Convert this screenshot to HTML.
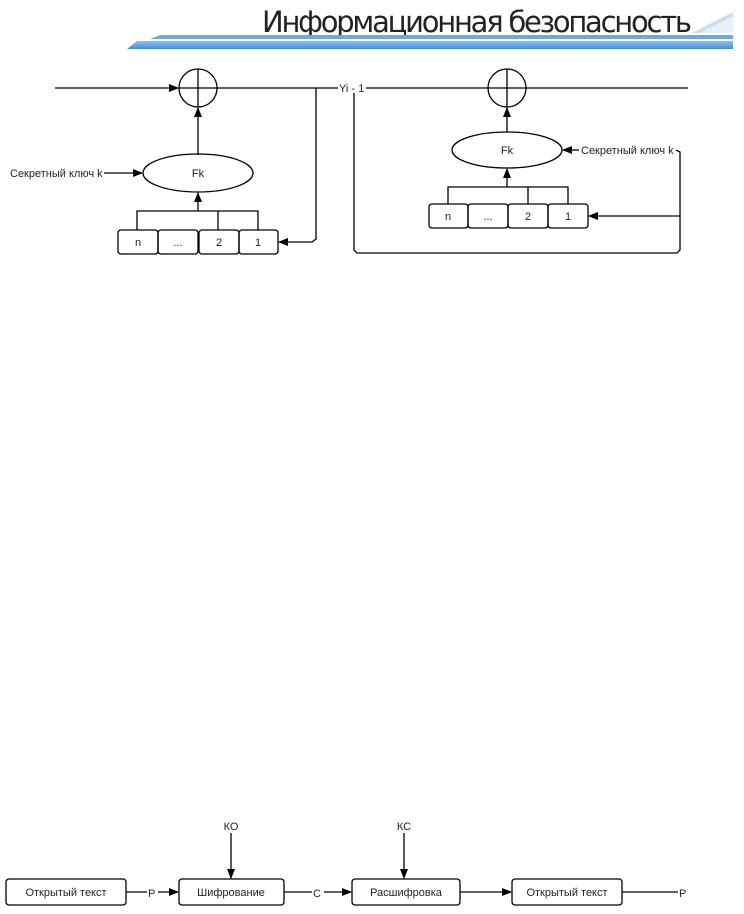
<!DOCTYPE html>
<html><head><meta charset="utf-8"><style>
html,body{margin:0;padding:0;background:#fff;width:744px;height:914px;overflow:hidden}
svg text{font-family:"Liberation Sans",sans-serif;fill:#222}
</style></head><body>
<svg width="744" height="914" viewBox="0 0 744 914" xmlns="http://www.w3.org/2000/svg">
<defs>
<marker id="a" markerWidth="10" markerHeight="8" refX="9" refY="4" orient="auto" markerUnits="userSpaceOnUse"><path d="M0,0 L10,4 L0,8 Z" fill="#000"/></marker>
<linearGradient id="g" x1="0" y1="0" x2="0" y2="1"><stop offset="0" stop-color="#8ec0ee"/><stop offset="1" stop-color="#3f8fdc"/></linearGradient>
</defs>
<!-- header -->
<text x="262" y="32" font-size="29" style="font-family:'DejaVu Sans','Liberation Sans',sans-serif" textLength="430" fill="#111">Информационная безопасность</text>
<polygon points="160,35 733,35 733,39 150,39" fill="#6aa8e6"/>
<polygon points="137,41 733,41 733,49 127,49" fill="url(#g)"/>
<polygon points="692,33 733,12 733,33" fill="#c9dff3"/>
<polygon points="700,33 733,16 733,33" fill="#e8f1fa"/>
<g stroke="#000" stroke-width="1.3" fill="none">
<!-- left diagram -->
<line x1="55" y1="88" x2="178" y2="88" marker-end="url(#a)"/>
<circle cx="198" cy="88" r="19"/>
<line x1="198" y1="69" x2="198" y2="107"/>
<line x1="179" y1="88" x2="217" y2="88"/>
<line x1="217" y1="88" x2="338" y2="88"/>
<line x1="198" y1="155" x2="198" y2="108" marker-end="url(#a)"/>
<ellipse cx="198" cy="173" rx="55" ry="19"/>
<line x1="104" y1="173" x2="142" y2="173" marker-end="url(#a)"/>
<line x1="198" y1="211" x2="198" y2="193" marker-end="url(#a)"/>
<polyline points="137,230 137,211 258,211 258,230"/>
<line x1="218" y1="211" x2="218" y2="230"/>
<rect x="118" y="230" width="40" height="24" rx="3"/>
<rect x="158" y="230" width="40" height="24" rx="3"/>
<rect x="199" y="230" width="40" height="24" rx="3"/>
<rect x="239" y="230" width="39" height="24" rx="3"/>
<polyline points="316,88 316,239 312,242 279,242" marker-end="url(#a)"/>
<!-- right diagram -->
<line x1="366" y1="88" x2="688" y2="88"/>
<circle cx="507" cy="88" r="19"/>
<line x1="507" y1="69" x2="507" y2="107"/>
<line x1="507" y1="132" x2="507" y2="108" marker-end="url(#a)"/>
<ellipse cx="507" cy="150" rx="55" ry="18"/>
<line x1="579" y1="150" x2="563" y2="150" marker-end="url(#a)"/>
<line x1="507" y1="187" x2="507" y2="169" marker-end="url(#a)"/>
<polyline points="448,204 448,187 568,187 568,204"/>
<line x1="528" y1="187" x2="528" y2="204"/>
<rect x="429" y="204" width="39" height="24" rx="3"/>
<rect x="468" y="204" width="40" height="24" rx="3"/>
<rect x="508" y="204" width="40" height="24" rx="3"/>
<rect x="548" y="204" width="40" height="24" rx="3"/>
<polyline points="676,150 680,152 680,250 677,253 357,253 354,250 354,93"/>
<line x1="680" y1="216" x2="589" y2="216" marker-end="url(#a)"/>
<!-- bottom -->
<rect x="6" y="879" width="120" height="26" rx="3"/>
<rect x="179" y="879" width="105" height="26" rx="3"/>
<rect x="352" y="879" width="108" height="26" rx="3"/>
<rect x="512" y="879" width="110" height="26" rx="3"/>
<line x1="126" y1="892" x2="147" y2="892"/>
<line x1="158" y1="892" x2="178" y2="892" marker-end="url(#a)"/>
<line x1="284" y1="892" x2="312" y2="892"/>
<line x1="324" y1="892" x2="351" y2="892" marker-end="url(#a)"/>
<line x1="460" y1="892" x2="511" y2="892" marker-end="url(#a)"/>
<line x1="622" y1="892" x2="678" y2="892"/>
<line x1="231" y1="833" x2="231" y2="878" marker-end="url(#a)"/>
<line x1="404" y1="833" x2="404" y2="878" marker-end="url(#a)"/>
</g>
<g font-size="11">
<text x="10" y="177">Секретный ключ k</text>
<text x="198" y="177" text-anchor="middle">Fk</text>
<text x="138" y="246" text-anchor="middle">n</text>
<text x="178" y="246" text-anchor="middle">...</text>
<text x="219" y="246" text-anchor="middle">2</text>
<text x="258" y="246" text-anchor="middle">1</text>
<text x="339" y="92">Yi - 1</text>
<text x="507" y="154" text-anchor="middle">Fk</text>
<text x="581" y="154">Секретный ключ k</text>
<text x="448" y="220" text-anchor="middle">n</text>
<text x="488" y="220" text-anchor="middle">...</text>
<text x="528" y="220" text-anchor="middle">2</text>
<text x="568" y="220" text-anchor="middle">1</text>
<text x="66" y="896" text-anchor="middle">Открытый текст</text>
<text x="231" y="896" text-anchor="middle">Шифрование</text>
<text x="406" y="896" text-anchor="middle">Расшифровка</text>
<text x="567" y="896" text-anchor="middle">Открытый текст</text>
<text x="148" y="897">P</text>
<text x="313" y="897">C</text>
<text x="679" y="897">P</text>
<text x="231" y="830" text-anchor="middle">КО</text>
<text x="404" y="830" text-anchor="middle">КС</text>
</g>
</svg>
</body></html>
